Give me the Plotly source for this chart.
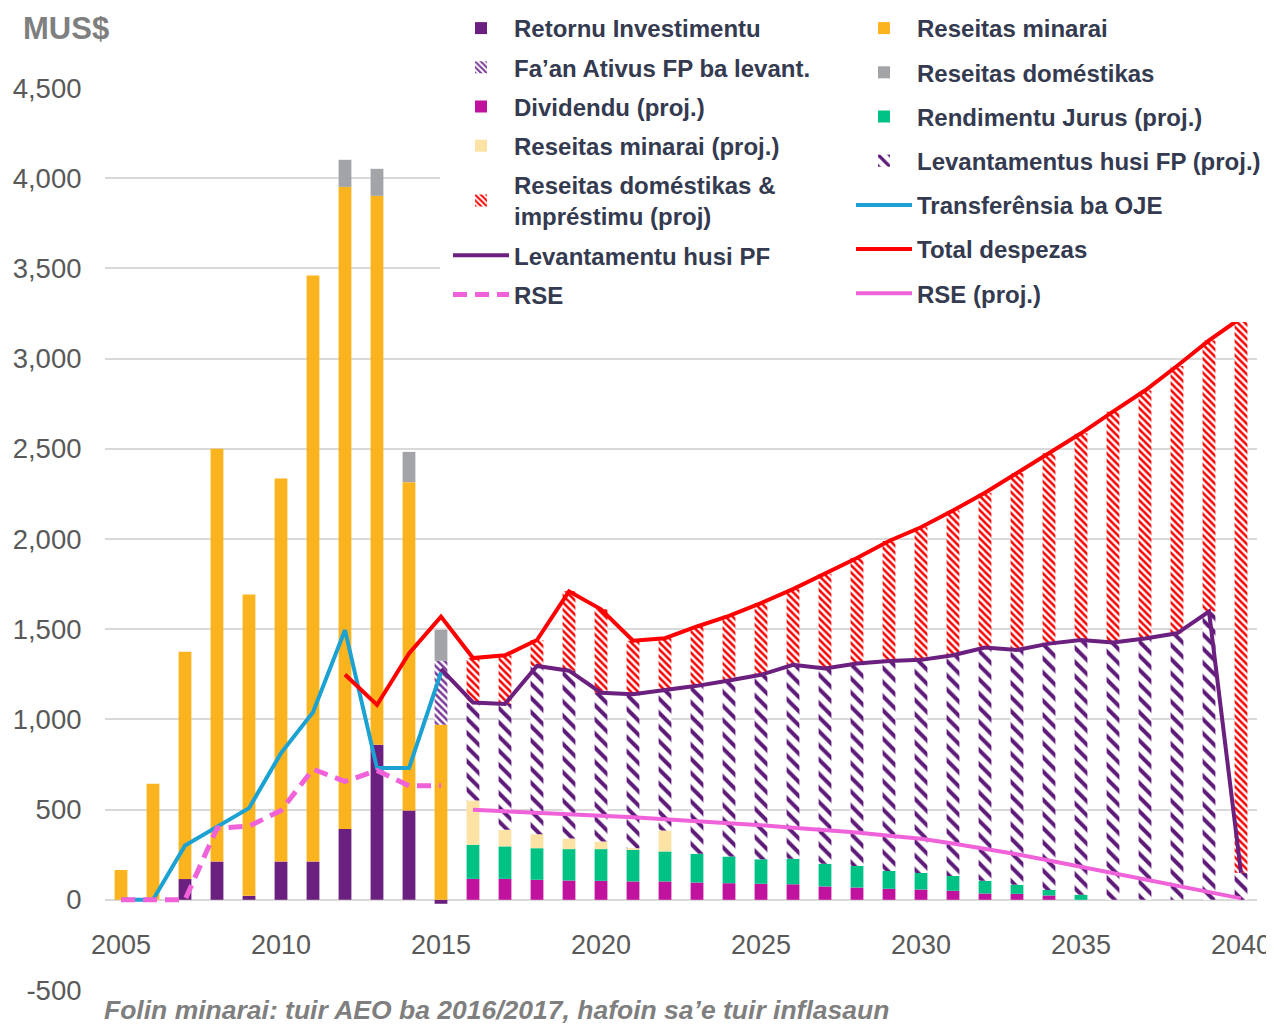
import plotly.graph_objects as go

# ---------------- data ----------------
years_hist = list(range(2005, 2016))
years_proj = list(range(2016, 2041))
years_pf = list(range(2015, 2041))
years_total = list(range(2012, 2041))

# historical stacked bars (segment values, MUS$)
retornu_investimentu = [0, 0, 115, 212, 22, 212, 212, 392, 859, 495, -22]
reseitas_minarai = [165, 643, 1260, 2288, 1670, 2123, 3248, 3560, 3043, 1820, 970]
faan_ativus = [None, None, None, None, None, None, None, None, None, None, 355]
reseitas_domestikas = [None, None, None, None, None, None, None, 150, 150, 168, 172]

# historical lines
transferensia_oje = [0, 0, 301, 406, 508, 813, 1040, 1495, 730, 730, 1260]
rse_hist = [0, 0, 0, 397, 408, 495, 724, 656, 717, 632, 632]

# projected stacked bars (segment values, 2016-2040)
dividendu_proj = [116, 116, 111, 107, 105, 102, 102, 96, 92, 89, 86, 74, 68,
                  61, 57, 50, 35, 33, 24, 0, 0, 0, 0, 0, 0]
rendimentu_jurus_proj = [189, 180, 175, 174, 176, 175, 166, 159, 148, 136, 142, 126, 120,
                         99, 92, 82, 70, 50, 31, 28, 0, 0, 0, 0, 0]
reseitas_minarai_proj = [246, 92, 78, 59, 42, 9, 116, 0, 0, 0, 0, 0, 0,
                         0, 0, 0, 0, 0, 0, 0, 0, 0, 0, 0, 0]
levantamentus_fp_proj = [543, 698, 932, 930, 825, 853, 776, 931, 976, 1022, 1075, 1082, 1122,
                         1164, 1181, 1224, 1293, 1302, 1365, 1412, 1427, 1449, 1477, 1598, 150]
reseitas_dom_impr_proj = [246, 269, 144, 440, 462, 297, 290, 329, 358, 398, 419, 525, 585,
                          665, 735, 802, 858, 981, 1056, 1146, 1279, 1374, 1482, 1503, 3075]

# projected lines
levantamentu_pf = [1280, 1094, 1086, 1296, 1270, 1148, 1139, 1160, 1186, 1216, 1247, 1303, 1282,
                   1310, 1324, 1330, 1356, 1398, 1385, 1420, 1440, 1427, 1449, 1477, 1598, 150]
total_despezas = [1249, 1080, 1365, 1570, 1340, 1355, 1440, 1710, 1610, 1436, 1450, 1515, 1574,
                  1645, 1722, 1807, 1895, 1989, 2065, 2158, 2256, 2366, 2476, 2586, 2706, 2823,
                  2959, 3101, 3225]
rse_proj = [499, 492, 484, 475, 466, 458, 448, 437, 425, 413, 400, 387, 373,
            355, 338, 312, 284, 252, 218, 183, 147, 112, 78, 45, 8]

y_tickvals = [-500, 0, 500, 1000, 1500, 2000, 2500, 3000, 3500, 4000, 4500]
y_ticktext = ["-500", "0", "500", "1,000", "1,500", "2,000", "2,500", "3,000", "3,500", "4,000", "4,500"]
x_tickvals = [2005, 2010, 2015, 2020, 2025, 2030, 2035, 2040]
x_ticktext = ["2005", "2010", "2015", "2020", "2025", "2030", "2035", "2040"]

# ---------------- styles ----------------
C_PURPLE = "#6b1f7f"
C_YELLOW = "#fbb41e"
C_GRAY = "#a2a4a8"
C_MAGENTA = "#c1129e"
C_GREEN = "#00c285"
C_LYELLOW = "#fde2a5"
C_RED = "#ff0000"
C_BLUE = "#1ba1d2"
C_PINK = "#f062da"
TXT = "#343a4f"

fig = go.Figure()


def bar(x, y, name, color, legend, rank, pattern=None):
    kw = dict(x=x, y=y, name=name, legend=legend, legendgroup=name, legendrank=rank,
              marker=dict(color=color, line=dict(width=0)))
    if pattern:
        kw["marker"]["pattern"] = pattern
    fig.add_trace(go.Bar(**kw))


bar(years_hist, retornu_investimentu, "Retornu Investimentu", C_PURPLE, "legend", 1)
bar(years_hist, reseitas_minarai, "Reseitas minarai", C_YELLOW, "legend2", 1)
bar(years_hist, faan_ativus, "Fa\u2019an Ativus FP ba levant.", "white", "legend", 2,
    dict(shape="\\", fgcolor="#7a3a96", bgcolor="white", fgopacity=1, fillmode="replace",
         size=5, solidity=0.5))
bar(years_hist, reseitas_domestikas, "Reseitas dom\u00e9stikas", C_GRAY, "legend2", 2)
bar(years_proj, dividendu_proj, "Dividendu (proj.)", C_MAGENTA, "legend", 3)
bar(years_proj, rendimentu_jurus_proj, "Rendimentu Jurus (proj.)", C_GREEN, "legend2", 3)
bar(years_proj, reseitas_minarai_proj, "Reseitas minarai (proj.)", C_LYELLOW, "legend", 4)
bar(years_proj, levantamentus_fp_proj, "Levantamentus husi FP (proj.)", "white", "legend2", 4,
    dict(shape="\\", fgcolor="#5e1a78", bgcolor="white", fgopacity=1, fillmode="replace",
         size=10, solidity=0.4))
bar(years_proj, reseitas_dom_impr_proj, "Reseitas dom\u00e9stikas &<br>impr\u00e9stimu (proj)", "white", "legend", 5,
    dict(shape="\\", fgcolor=C_RED, bgcolor="white", fgopacity=1, fillmode="replace",
         size=5, solidity=0.5))


def line(x, y, name, color, legend, rank, dash="solid", width=4):
    fig.add_trace(go.Scatter(x=x, y=y, name=name, legend=legend, legendgroup=name, legendrank=rank,
                             mode="lines", line=dict(color=color, width=width, dash=dash)))


line(years_pf, levantamentu_pf, "Levantamentu husi PF", C_PURPLE, "legend", 6)
line(years_hist, transferensia_oje, "Transfer\u00eansia ba OJE", C_BLUE, "legend2", 5)
line(years_hist, rse_hist, "RSE", C_PINK, "legend", 7, dash="14px,8px", width=5)
line(years_total, total_despezas, "Total despezas", C_RED, "legend2", 6)
line(years_proj, rse_proj, "RSE (proj.)", C_PINK, "legend2", 7)

TICKFONT = "Liberation Sans, Arial, sans-serif"
legend_font = dict(family="Liberation Sans, Arial, sans-serif", size=24, color=TXT, weight="bold")

# page has an 8px body margin: all target pixel positions are given in screenshot coords
OFF = 8
W, H = 1274 - OFF, 1025 - OFF
PL, PT = 105 - OFF, 88 - OFF
PR = W - (1257 - OFF)
PB = H - (990 - OFF)
pw, ph = W - PL - PR, H - PT - PB


def px_x(px):
    return (px - OFF - PL) / pw


def px_y(py):
    return (H - PB - (py - OFF)) / ph


fig.update_layout(
    width=W, height=H,
    margin=dict(l=PL, r=PR, t=PT, b=PB, autoexpand=False),
    paper_bgcolor="white", plot_bgcolor="white",
    barmode="relative", bargap=0.6,
    showlegend=True,
    legend=dict(x=px_x(448), y=px_y(6), xanchor="left", yanchor="top",
                orientation="v", traceorder="grouped", tracegroupgap=5, itemwidth=56,
                font=legend_font, bgcolor="rgba(0,0,0,0)", itemclick=False),
    legend2=dict(x=px_x(851), y=px_y(6), xanchor="left", yanchor="top",
                 orientation="v", traceorder="grouped", tracegroupgap=10, itemwidth=56,
                 font=legend_font, bgcolor="rgba(0,0,0,0)", itemclick=False),
    xaxis=dict(range=[2004.5, 2040.5], tickmode="array", tickvals=x_tickvals, ticktext=x_ticktext,
               anchor="free", position=0.1, showgrid=False, zeroline=False, showline=False,
               ticks="outside", ticklen=21, tickcolor="rgba(0,0,0,0)",
               tickfont=dict(family=TICKFONT, size=27, color="#595959")),
    yaxis=dict(range=[-500, 4500], tickmode="array", tickvals=y_tickvals, ticktext=y_ticktext,
               showgrid=True, gridcolor="#d9d9d9", gridwidth=2, zeroline=False, showline=False,
               ticks="outside", ticklen=17, tickcolor="rgba(0,0,0,0)",
               tickfont=dict(family=TICKFONT, size=27.5, color="#595959")),
    shapes=[dict(type="rect", xref="paper", yref="paper", layer="above",
                 x0=px_x(440), x1=px_x(1290),
                 y0=px_y(322), y1=px_y(-5),
                 fillcolor="white", line=dict(width=0))],
    annotations=[
        dict(text="MUS$", xref="paper", yref="paper", x=px_x(21), y=px_y(28),
             xanchor="left", yanchor="middle", showarrow=False,
             font=dict(family="Liberation Sans, Arial, sans-serif", size=31, color="#7f7f7f", weight="bold")),
        dict(text="Folin minarai: tuir AEO ba 2016/2017, hafoin sa\u2019e tuir inflasaun",
             xref="paper", yref="paper", x=px_x(102), y=px_y(1010),
             xanchor="left", yanchor="middle", showarrow=False,
             font=dict(family="Liberation Sans, Arial, sans-serif", size=26.5, color="#7f7f7f",
                       weight="bold", style="italic")),
    ],
)

fig.write_html("out.html")
